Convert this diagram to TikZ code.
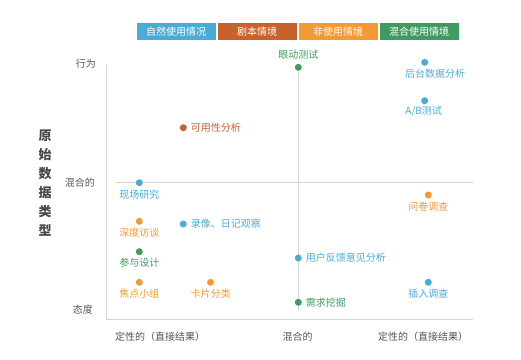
\documentclass[tikz,border=0pt]{standalone}
\usepackage{fontspec}
\setmainfont{Noto Sans CJK SC}
\newfontfamily\cjkbold[BoldFont={Noto Sans CJK SC Bold}]{Noto Sans CJK SC}
\definecolor{cblue}{HTML}{4AABD9}
\definecolor{cdark}{HTML}{C8622B}
\definecolor{corange}{HTML}{F29A33}
\definecolor{cgreen}{HTML}{3F9B60}
\definecolor{caxis}{HTML}{D4D4D4}
\definecolor{ctext}{HTML}{555555}
\begin{document}
\begin{tikzpicture}[x=1pt,y=-1pt,
  legbox/.style={fill=#1,minimum width=79pt,minimum height=17pt,inner sep=0pt,text=white,font=\fontsize{10}{12}\selectfont},
  dot/.style={circle,fill=#1,inner sep=0pt,minimum size=7pt},
  lab/.style={text=#1,font=\fontsize{10}{12}\selectfont,inner sep=0pt},
  axlab/.style={text=ctext,font=\fontsize{10}{12}\selectfont,inner sep=0pt},
  axline/.style={draw=caxis,line width=1pt}]
\useasboundingbox (0,0) rectangle (521,359);
% legend
\node[legbox=cblue] (l1) at (176,31.5) {自然使用情况};
\node[legbox=cdark] (l2) at (257,31.5) {剧本情境};
\node[legbox=corange] (l3) at (338,31.5) {非使用情境};
\node[legbox=cgreen] (l4) at (419,31.5) {混合使用情境};
% axes
\coordinate (ytop) at (106.5,65);
\coordinate (origin) at (106.5,319.5);
\coordinate (xend) at (473,319.5);
\draw[axline] (ytop) -- (origin) -- (xend);
\coordinate (hm1) at (116,182.7);
\coordinate (hm2) at (473,182.7);
\draw[axline] (hm1) -- (hm2);
\coordinate (vm1) at (298.3,67);
\coordinate (vm2) at (298.3,310);
\draw[axline] (vm1) -- (vm2);
% axis labels
\node[axlab,anchor=east] (yl1) at (96,64) {行为};
\node[axlab,anchor=east] (yl2) at (95,182.7) {混合的};
\node[axlab,anchor=east] (yl3) at (93,310) {态度};
\node[axlab] (xl1) at (160,336.7) {定性的（直接结果）};
\node[axlab] (xl2) at (297.7,336.7) {混合的};
\node[axlab] (xl3) at (423,336.7) {定性的（直接结果）};
% title
\node[text=ctext!85!black,font=\fontsize{13}{19}\selectfont\bfseries,align=center,inner sep=0pt] (title) at (45,183.5) {原\\始\\数\\据\\类\\型};
% points
\node[dot=cgreen] (p1) at (298.3,67.3) {};
\node[lab=cgreen] (t1) at (298.3,55) {眼动测试};
\node[dot=cblue] (p2) at (424.7,62.3) {};
\node[lab=cblue] (t2) at (435,73.3) {后台数据分析};
\node[dot=cblue] (p3) at (424.7,100.7) {};
\node[lab=cblue] (t3) at (423.7,111.7) {A/B测试};
\node[dot=cdark] (p4) at (183.3,127.7) {};
\node[lab=cdark,anchor=west] (t4) at (190.7,127.7) {可用性分析};
\node[dot=cblue] (p5) at (139.3,182.7) {};
\node[lab=cblue] (t5) at (139.3,194.3) {现场研究};
\node[dot=corange] (p6) at (428.3,195) {};
\node[lab=corange] (t6) at (428.3,206.3) {问卷调查};
\node[dot=corange] (p7) at (139.3,221.3) {};
\node[lab=corange] (t7) at (139.3,232.7) {深度访谈};
\node[dot=cblue] (p8) at (183.3,224) {};
\node[lab=cblue,anchor=west] (t8) at (190.7,224) {录像、日记观察};
\node[dot=cgreen] (p9) at (139.3,251.7) {};
\node[lab=cgreen] (t9) at (139.3,262.7) {参与设计};
\node[dot=cblue] (p10) at (298.3,258) {};
\node[lab=cblue,anchor=west] (t10) at (305.7,258) {用户反馈意见分析};
\node[dot=corange] (p11) at (139.3,282.3) {};
\node[lab=corange] (t11) at (139.3,293.3) {焦点小组};
\node[dot=corange] (p12) at (210.5,282.3) {};
\node[lab=corange] (t12) at (210.7,293.3) {卡片分类};
\node[dot=cblue] (p13) at (428.3,282.3) {};
\node[lab=cblue] (t13) at (428.3,293.3) {插入调查};
\node[dot=cgreen] (p14) at (298.3,302.3) {};
\node[lab=cgreen,anchor=west] (t14) at (305.7,302.3) {需求挖掘};
\end{tikzpicture}
\end{document}
